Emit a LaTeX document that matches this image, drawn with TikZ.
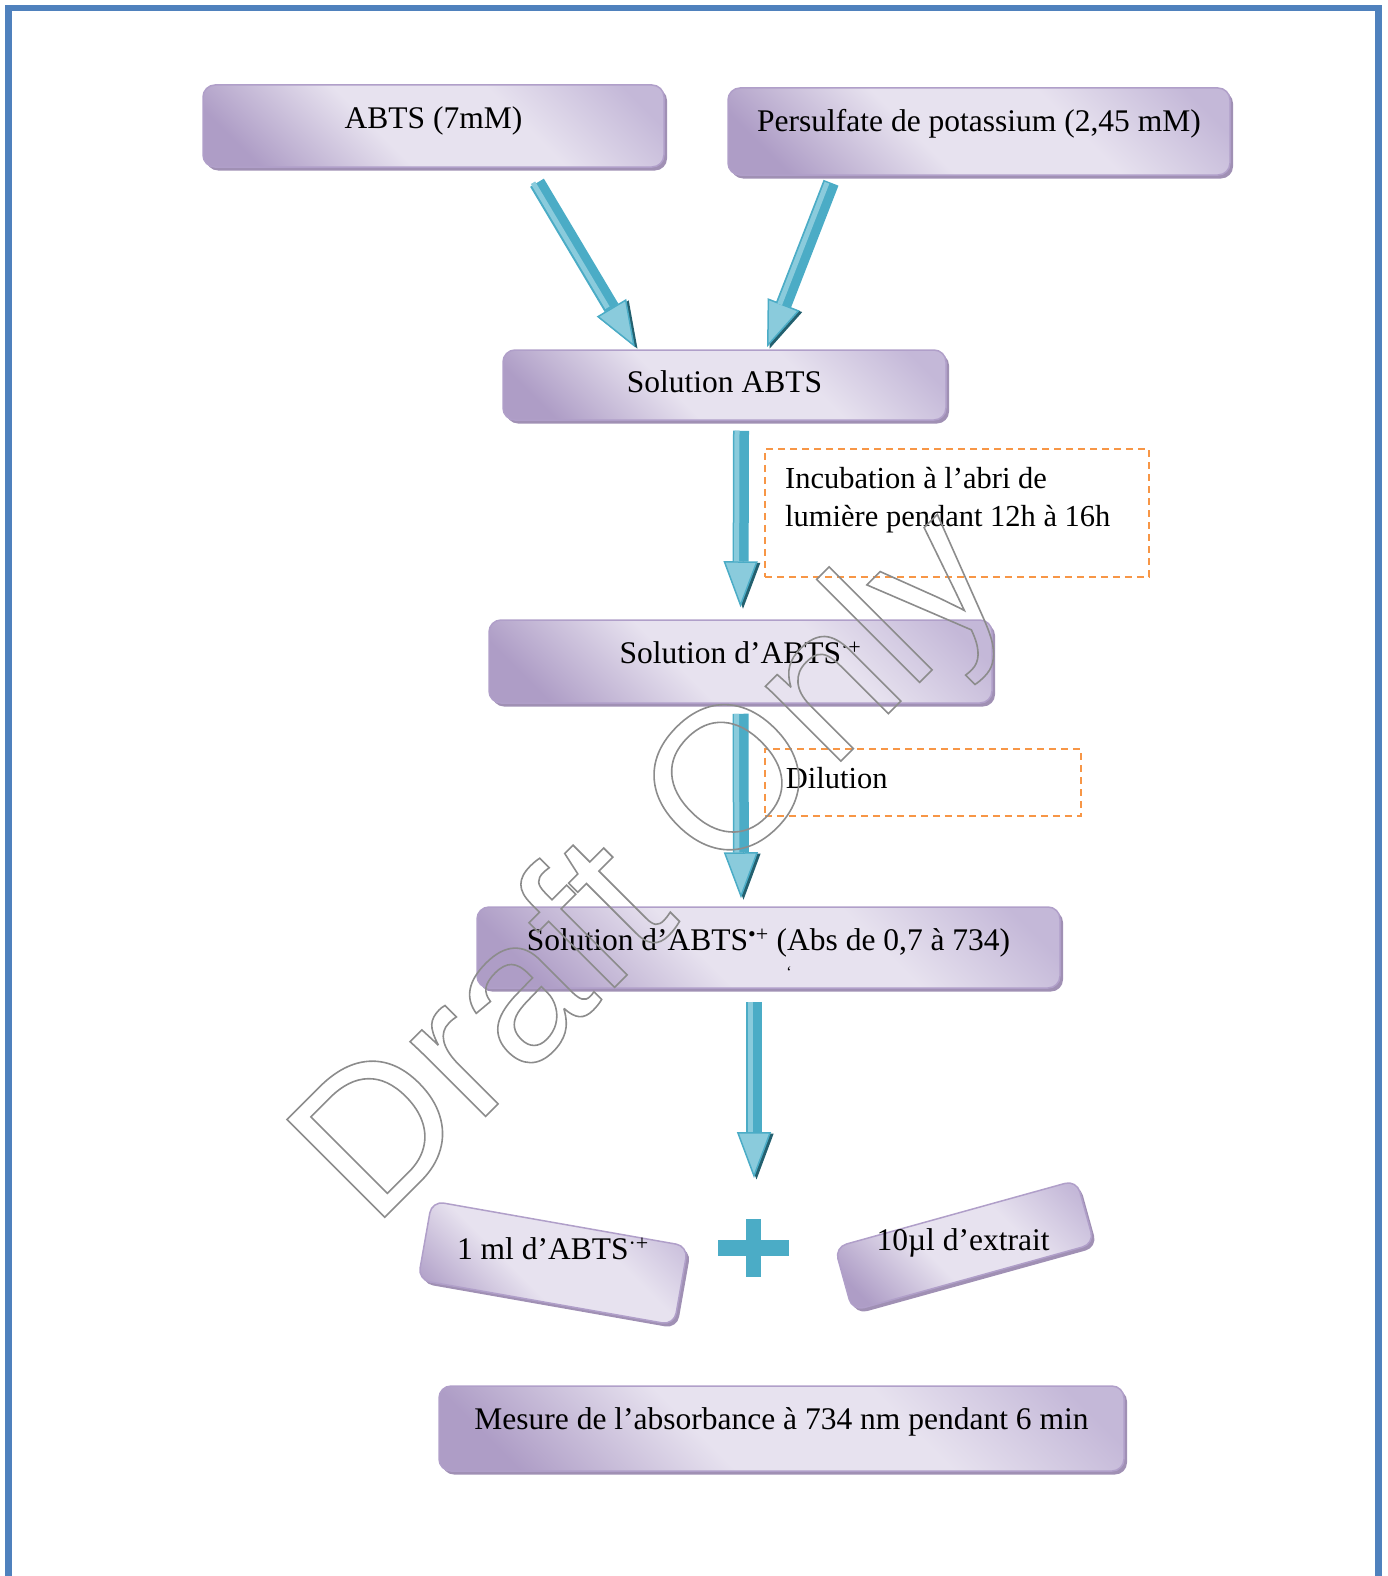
\documentclass[tikz,border=0pt]{standalone}
\usepackage{fontspec}
\setmainfont{Liberation Serif}
\newfontfamily\markfont{Liberation Sans}
\usepackage{xcolor}
\usetikzlibrary{positioning, calc, arrows.meta, shadows}

\definecolor{lavlight}{HTML}{E7E2EF}
\definecolor{lavdark}{HTML}{AE9DC6}
\definecolor{lavmid}{HTML}{C4B8D8}
\definecolor{lavedge}{HTML}{B09FC9}
\definecolor{lavshadow}{HTML}{A090B4}
\definecolor{flowteal}{HTML}{4BACC6}
\definecolor{flowlight}{HTML}{8ACBDC}
\definecolor{flowdark}{HTML}{23606F}
\definecolor{noteorange}{HTML}{F79646}
\definecolor{framebl}{HTML}{4F81BD}
\definecolor{markgray}{HTML}{8C8C8C}

\pgfdeclarehorizontalshading{lavender}{100bp}{color(0bp)=(lavdark); color(22bp)=(lavdark); color(42bp)=(lavlight); color(62bp)=(lavlight); color(80bp)=(lavmid); color(100bp)=(lavmid)}

\begin{document}
\begin{tikzpicture}[x=1pt, y=-1pt,
   boxlook/.style = {draw=lavedge, line width=1.5pt, rounded corners=12pt,
     shading=lavender, shading angle=45, inner sep=0pt,
     drop shadow={shadow xshift=3pt, shadow yshift=-3.5pt, fill=lavshadow, opacity=1},
     font=\fontsize{31.5}{38}\selectfont},
   stepbox/.style = {boxlook, text height=21pt, text depth=16pt},
   boxtext/.style = {font=\fontsize{31.5}{38}\selectfont, inner sep=0pt},
   note/.style = {draw=noteorange, line width=1.8pt, dash pattern=on 7pt off 5pt, inner sep=0pt},
   notetext/.style = {font=\fontsize{30.5}{38}\selectfont, align=left, inner sep=0pt},
   flow/.style = {line width=16pt, draw=flowteal,
     -{Triangle[width=34pt, length=46pt, line width=1.5pt, fill=flowlight]},
     preaction={draw=flowdark, transform canvas={xshift=2.5pt, yshift=-1.5pt},
       -{Triangle[width=34pt, length=46pt, line width=1.5pt, fill=flowdark]}},
     postaction={draw=flowlight, line width=5pt, -, shorten >=46pt,
       transform canvas={xshift=-4pt}}}]
   \useasboundingbox (0,0) rectangle (1388,1576);

   % page frame
   \draw[framebl, line width=6.5pt] (8.5,1576) -- (8.5,8) -- (1378.5,8) -- (1378.5,1576);

   \node[stepbox, minimum width=461pt, minimum height=82pt] (abts) at (433.5,126) {ABTS (7mM)};
   \node[stepbox, text depth=21pt, minimum width=502pt, minimum height=87pt] (persulf) at (979,131.5)
     {Persulfate de potassium (2,45 mM)};
   \node[stepbox, text depth=6pt, minimum width=443pt, minimum height=70pt] (sol) at (724.5,385) {Solution ABTS};
   \node[stepbox, text depth=17pt, minimum width=503pt, minimum height=83pt] (rad) at (740.5,661.5)
     {Solution d’ABTS\textsuperscript{·+}};
   \node[stepbox, text depth=15pt, minimum width=583pt, minimum height=81pt] (radabs) at (768.5,947.5)
     {Solution d’ABTS\textsuperscript{•+} (Abs de 0,7 à 734)};
   \node[font=\fontsize{16}{16}\selectfont, inner sep=0pt] (tick) at (789,972) {\char"60};
   % tilted boxes, level text
   \node[boxlook, rotate=-10, minimum width=260pt, minimum height=80pt] (onemL) at (553,1263) {};
   \node[boxtext] (onemLtxt) at (553,1249) {1 ml d’ABTS\textsuperscript{·+}};
   \node[boxlook, rotate=15.5, minimum width=251pt, minimum height=66pt] (extract) at (964.5,1245.5) {};
   \node[boxtext] (extracttxt) at (963,1243) {10µl d’extrait};
   \node[stepbox, text depth=19pt, minimum width=685pt, minimum height=85pt] (measure) at (781.5,1428.5)
     {Mesure de l’absorbance à 734 nm pendant 6 min};

   % side notes
   \node[note, minimum width=384pt, minimum height=128pt, anchor=north west] (incub) at (764,448) {};
   \node[notetext, anchor=north west] (incubtxt) at ([xshift=21pt, yshift=-19pt]incub.north west)
     {Incubation à l’abri de\\lumière pendant 12h à 16h};
   \node[note, notetext, inner xsep=21pt, text width=274pt, text height=21pt, text depth=9pt,
     minimum height=67pt, anchor=north west] (dilut) at (764,748) {Dilution};

   % block arrows
   \coordinate (mixtop) at (754,1178);
   \draw[flow] ([xshift=103.5pt, yshift=-15pt]abts.south) -- ([xshift=-89.5pt, yshift=2pt]sol.north);
   \draw[flow] ([xshift=-148pt, yshift=-7pt]persulf.south) -- ([xshift=42.5pt, yshift=2pt]sol.north);
   \draw[flow] ([xshift=16.5pt, yshift=-10pt]sol.south) -- ([yshift=12pt]rad.north);
   \draw[flow] ([yshift=-10pt]rad.south) -- ([xshift=-27.5pt, yshift=8pt]radabs.north);
   \draw[flow] ([xshift=-14.5pt, yshift=-13pt]radabs.south) -- (mixtop);

   % plus sign
   \coordinate (plus) at (753,1248);
   \fill[flowteal] ($(plus)+(-35.5,-8)$) rectangle ($(plus)+(35.5,8)$);
   \fill[flowteal] ($(plus)+(-7.5,-29)$) rectangle ($(plus)+(7.5,29)$);

   % watermark
   \node[font=\markfont\fontsize{201}{201}\selectfont, text=markgray, rotate=45,
     anchor=base west, inner sep=0pt] (draft) at (373,1229)
     {\special{pdf:literal direct 1 Tr 1.6 w}Draft Only\special{pdf:literal direct 0 Tr}};
\end{tikzpicture}
\end{document}
